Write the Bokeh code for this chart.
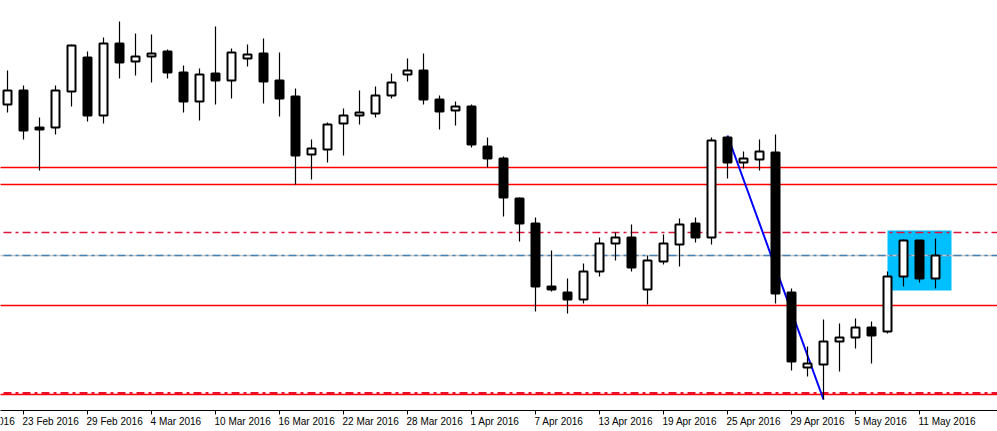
from bokeh.plotting import figure
from bokeh.models import Range1d, ColumnDataSource
from bokeh.core.properties import value
from bokeh.embed import file_html
from bokeh.resources import INLINE

# ---- data (daily candles, 22 Feb 2016 .. 12 May 2016); price units ----
dates = ["22 Feb", "23 Feb", "24 Feb", "25 Feb", "26 Feb", "29 Feb", "1 Mar", "2 Mar", "3 Mar", "4 Mar",
         "7 Mar", "8 Mar", "9 Mar", "10 Mar", "11 Mar", "14 Mar", "15 Mar", "16 Mar", "17 Mar", "18 Mar",
         "21 Mar", "22 Mar", "23 Mar", "24 Mar", "25 Mar", "28 Mar", "29 Mar", "30 Mar", "31 Mar", "1 Apr",
         "4 Apr", "5 Apr", "6 Apr", "7 Apr", "8 Apr", "11 Apr", "12 Apr", "13 Apr", "14 Apr", "15 Apr",
         "18 Apr", "19 Apr", "20 Apr", "21 Apr", "22 Apr", "25 Apr", "26 Apr", "27 Apr", "28 Apr", "29 Apr",
         "2 May", "3 May", "4 May", "5 May", "6 May", "9 May", "10 May", "11 May", "12 May"]
opens = [306, 320, 281, 283, 319, 353, 295, 367, 349, 354,
         359, 338, 309, 337, 330, 352, 357, 330, 314, 256,
         261, 287, 295, 297, 315, 336, 340, 311, 300, 304,
         264, 252, 212, 187, 124, 118, 111, 139, 167, 173,
         121, 149, 166, 187, 173, 273, 248, 251, 258, 118,
         43, 46, 69, 73, 83, 79, 134, 170, 132]
highs = [340, 325, 293, 325, 366, 359, 373, 389, 377, 376,
         361, 345, 342, 384, 362, 366, 372, 358, 322, 271,
         288, 302, 320, 324, 337, 352, 357, 315, 309, 306,
         273, 254, 213, 193, 160, 132, 147, 173, 178, 186,
         155, 176, 192, 193, 273, 274, 259, 271, 276, 122,
         64, 91, 87, 92, 89, 139, 171, 170, 172]
lows = [298, 271, 240, 276, 304, 289, 287, 332, 335, 328,
        332, 298, 290, 306, 312, 344, 307, 294, 226, 231,
        248, 255, 286, 293, 312, 329, 306, 281, 285, 263,
        243, 194, 169, 99, 119, 97, 107, 134, 150, 139,
        106, 146, 144, 168, 166, 232, 242, 240, 107, 40,
        34, 11, 39, 62, 47, 77, 124, 128, 122]
closes = [320, 280, 283, 320, 365, 295, 367, 348, 354, 357,
          338, 309, 336, 330, 358, 356, 329, 312, 255, 262,
          286, 295, 298, 315, 328, 340, 311, 299, 304, 266,
          252, 213, 187, 124, 121, 111, 139, 167, 173, 143,
          150, 167, 186, 173, 270, 248, 252, 259, 117, 49,
          47, 69, 73, 83, 75, 134, 170, 132, 155]

tick_index = [-3, 1, 5, 9, 13, 17, 21, 25, 29, 33, 37, 41, 45, 49, 53, 57]
tick_labels = ["17 Feb 2016", "23 Feb 2016", "29 Feb 2016", "4 Mar 2016", "10 Mar 2016", "16 Mar 2016",
               "22 Mar 2016", "28 Mar 2016", "1 Apr 2016", "7 Apr 2016", "13 Apr 2016",
               "19 Apr 2016", "25 Apr 2016", "29 Apr 2016", "5 May 2016", "11 May 2016"]

# horizontal levels
levels_solid = [243, 226, 105, 16]
level_dashdot_red = [178]
level_dashdot_blue = [155]
level_dashdot_bottom = [17.5]

# trend line (from high of 25 Apr to low of 3 May)
trend_x = [45, 51]
trend_y = [275, 11]

# highlight box (last three candles)
box_left, box_right, box_bottom, box_top = 55, 59, 120, 180

# ---- figure (frame covers the whole window; time scale drawn MetaTrader style) ----
X0, X1 = -0.4375, 61.875
p = figure(width=997, height=431, output_backend="svg", toolbar_location=None,
           x_range=Range1d(X0, X1), y_range=Range1d(-21, 410),
           min_border_left=0, min_border_right=0, min_border_top=0, min_border_bottom=0)
p.outline_line_color = None
p.grid.visible = False
p.axis.visible = False
p.background_fill_color = "white"

# box
p.quad(left=[box_left], right=[box_right], bottom=[box_bottom], top=[box_top],
       fill_color="#00BFFF", line_color=None)

# horizontal lines
for lv in levels_solid:
    p.line(x=[X0 - 1, X1 + 1], y=[lv, lv], line_color="#FF0000", line_width=1.3)
for lv in level_dashdot_red:
    p.line(x=[X0 - 1, X1 + 1], y=[lv, lv], line_color="#E0143C", line_width=1.3, line_dash="8 4 3 4")
for lv in level_dashdot_blue:
    p.line(x=[X0 - 1, X1 + 1], y=[lv, lv], line_color="#C8C8C8", line_width=1.3)
    p.line(x=[X0 - 1, X1 + 1], y=[lv, lv], line_color="#4682B4", line_width=1.3, line_dash="8 4 3 4")
for lv in level_dashdot_bottom:
    p.line(x=[X0 - 1, X1 + 1], y=[lv, lv], line_color="#E8102A", line_width=2, line_dash="8 4 3 4")

# trend line
p.line(x=trend_x, y=trend_y, line_color="#0000FF", line_width=2)

# candles
idx = list(range(len(opens)))
up = [c >= o for o, c in zip(opens, closes)]
src = ColumnDataSource(dict(x=idx, high=highs, low=lows,
                            top=[max(o, c) for o, c in zip(opens, closes)],
                            bottom=[min(o, c) for o, c in zip(opens, closes)],
                            fill=["white" if u else "black" for u in up]))
p.segment(x0="x", y0="low", x1="x", y1="high", source=src, line_color="black", line_width=1.2)
p.vbar(x="x", width=0.5, top="top", bottom="bottom", source=src,
       fill_color="fill", line_color="black", line_width=2)

# time axis: line, tick marks and left-aligned date labels
p.line(x=[X0 - 1, X1 + 1], y=[0, 0], line_color="black", line_width=1)
p.segment(x0=tick_index, y0=[0] * len(tick_index), x1=tick_index, y1=[-4] * len(tick_index),
          line_color="black", line_width=1)
p.text(x=[i - 0.06 for i in tick_index], y=[-5] * len(tick_index), text=tick_labels,
       text_align="left", text_baseline="top", text_font=value("Liberation Sans"),
       text_font_size="10px", text_color="black")

open("out.html", "w").write(file_html(p, INLINE))
